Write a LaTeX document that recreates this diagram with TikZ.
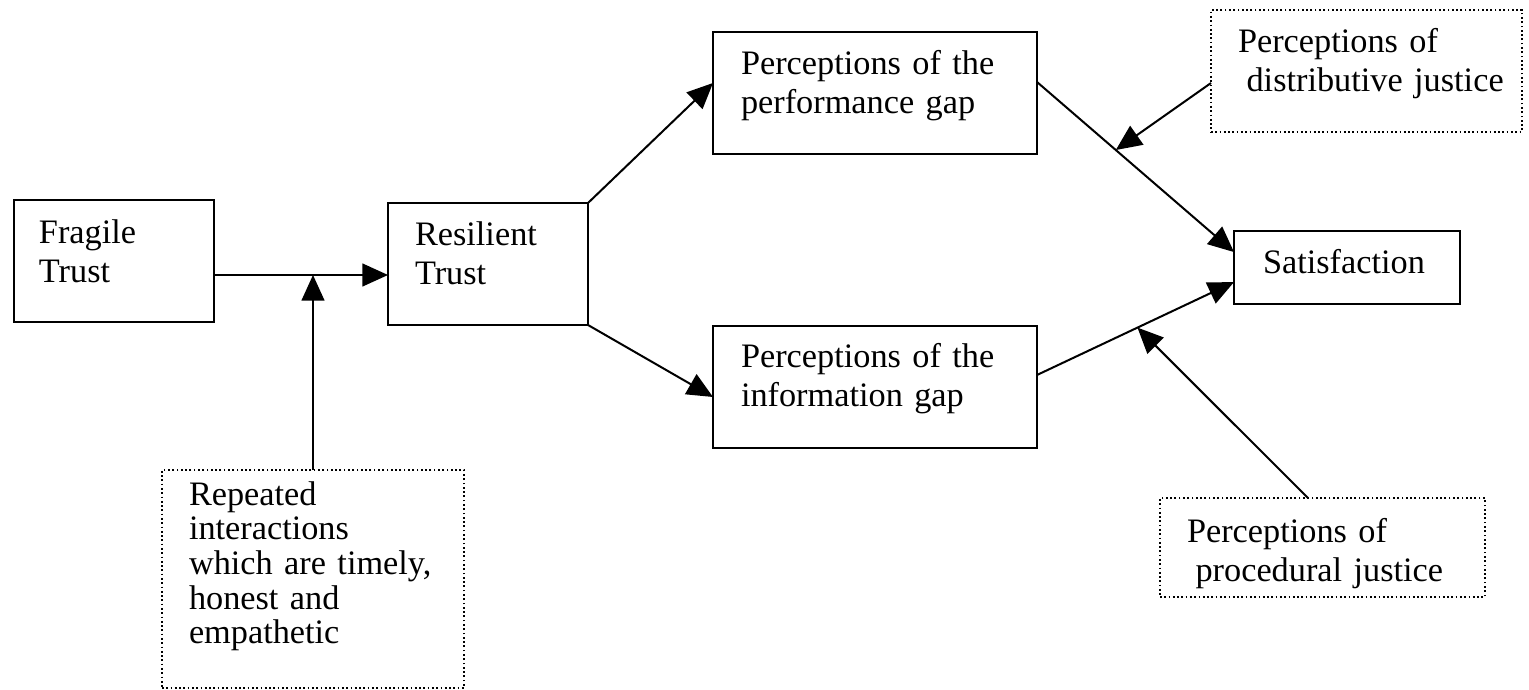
\documentclass[tikz,border=0pt]{standalone}
\usepackage{fontspec}
\setmainfont{Liberation Serif}
\usetikzlibrary{arrows.meta,calc}
\begin{document}
\begin{tikzpicture}[x=0.35pt,y=-0.35pt,
  box/.style={draw, line width=0.9pt, anchor=north west, inner ysep=0pt, outer sep=0pt,
              align=left, font=\fontsize{12}{13.65}\selectfont},
  dbox/.style={box, line width=0.6pt, dash pattern=on 0.6pt off 0.9pt},
  arr/.style={line width=0.7pt, -{Triangle[length=9pt,width=8pt]}}]
\useasboundingbox (0,0) rectangle (1529,690);
% solid boxes
\node[box, inner xsep=8.75pt, text width=52.5pt, text height=15.4pt, text depth=27.3pt] (fr) at (14,200) {Fragile\\Trust};
\node[box, inner xsep=9.45pt, text width=51.1pt, text height=15.05pt, text depth=27.65pt] (re) at (388,203) {Resilient\\Trust};
\node[box, inner xsep=9.8pt, text width=93.8pt, text height=15.05pt, text depth=27.65pt] (pg) at (713,32) {\mbox{Perceptions of the}\\\mbox{performance gap}};
\node[box, inner xsep=9.8pt, text width=93.8pt, text height=14.7pt, text depth=28pt] (ig) at (713,326) {\mbox{Perceptions of the}\\\mbox{information gap}};
\node[box, inner xsep=10.15pt, text width=58.8pt, text height=15.05pt, text depth=10.5pt] (sat) at (1234,231) {\mbox{Satisfaction}};
% dotted boxes
\node[dbox, inner xsep=9.45pt, text width=89.95pt, text height=15.05pt, text depth=27.65pt] (dj) at (1211,10) {\mbox{Perceptions of}\\\mbox{\hspace*{3pt}distributive justice}};
\node[dbox, inner xsep=9.45pt, text width=94.85pt, text height=15.4pt, text depth=19.25pt] (pj) at (1160,498) {\mbox{Perceptions of}\\\mbox{\hspace*{3pt}procedural justice}};
\node[dbox, inner xsep=9.45pt, text width=86.8pt, text height=12.25pt, text depth=64.05pt,
      font=\fontsize{12}{12.15}\selectfont] (rep) at (162,470) {Repeated\\interactions\\\mbox{which are timely,}\\\mbox{honest and}\\empathetic};
% connectors
\coordinate (j1) at (314,275);
\draw[arr] (fr.east |- j1) -- (re.west |- j1);
\draw[arr] (rep.north) -- (rep.north |- j1);
\draw[arr] (re.north east) -- ([yshift=3.5pt]pg.west);
\draw[arr] (re.south east) -- ([yshift=-3.5pt]ig.west);
\coordinate (p1) at ([yshift=3.85pt]pg.east);
\coordinate (s1) at ([yshift=5.4pt]sat.west);
\coordinate (p2) at ([yshift=4.2pt]ig.east);
\coordinate (s2) at ([yshift=-5.1pt]sat.west);
\draw[arr] (p1) -- (s1);
\draw[arr] (p2) -- (s2);
\coordinate (m1) at ($(p1)!0.40!(s1)$);
\coordinate (m2) at ($(p2)!0.51!(s2)$);
\draw[arr] ([yshift=-4.2pt]dj.west) -- (m1);
\draw[arr] ([xshift=-5.1pt]pj.north) -- (m2);
\end{tikzpicture}
\end{document}
